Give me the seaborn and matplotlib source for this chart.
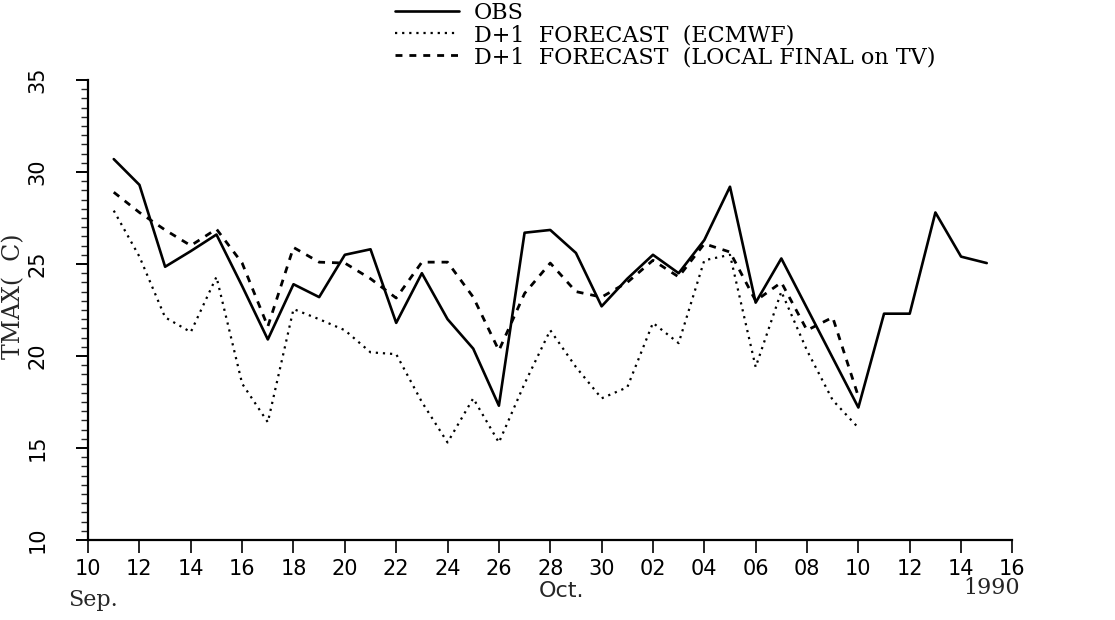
import matplotlib
matplotlib.use("Agg")
import matplotlib.pyplot as plt
import matplotlib.dates as mdates
from matplotlib.ticker import MultipleLocator
import numpy as np
import pandas as pd
import seaborn as sns

# Daily maximum temperature, 11 Sep - 15 Oct 1990
obs_start = "1990-09-11"
obs_tmax = [30.7, 29.3, 24.85, 25.7, 26.6, 23.8, 20.9, 23.9, 23.2, 25.5,
            25.8, 21.8, 24.5, 22.0, 20.4, 17.3, 26.7, 26.85, 25.6, 22.7,
            24.2, 25.5, 24.5, 26.3, 29.2, 22.9, 25.3, 22.6, 19.9, 17.2,
            22.3, 22.3, 27.8, 25.4, 25.05]

# Day+1 forecasts, 11 Sep - 10 Oct 1990
fc_start = "1990-09-11"
ecmwf_tmax = [27.9, 25.4, 22.1, 21.3, 24.3, 18.5, 16.4, 22.55, 22.0, 21.4,
              20.2, 20.1, 17.5, 15.3, 17.7, 15.3, 18.5, 21.4, 19.4, 17.7,
              18.3, 21.8, 20.7, 25.2, 25.5, 19.4, 23.5, 20.3, 17.6, 16.1]
local_tmax = [28.9, 27.8, 26.85, 26.0, 26.9, 25.05, 21.6, 25.9, 25.1, 25.05,
              24.2, 23.15, 25.1, 25.1, 23.2, 20.3, 23.4, 25.05, 23.5, 23.2,
              24.0, 25.2, 24.3, 26.1, 25.65, 23.0, 24.0, 21.4, 22.1, 17.8]

series_labels = ["OBS", "D+1  FORECAST  (ECMWF)", "D+1  FORECAST  (LOCAL FINAL on TV)"]
y_label = "TMAX(  C)"
month_labels = ["Sep.", "Oct."]
year_label = "1990"

obs = pd.DataFrame({"date": pd.date_range(obs_start, periods=len(obs_tmax)),
                    "tmax": obs_tmax})
ecmwf = pd.DataFrame({"date": pd.date_range(fc_start, periods=len(ecmwf_tmax)),
                      "tmax": ecmwf_tmax})
local = pd.DataFrame({"date": pd.date_range(fc_start, periods=len(local_tmax)),
                      "tmax": local_tmax})

sns.set_style("ticks")
plt.rcParams["font.family"] = ["DejaVu Sans"]

fig = plt.figure(figsize=(11.15, 6.2), dpi=100)
ax = fig.add_axes([0.079, 0.129, 0.829, 0.742])

sns.lineplot(data=obs, x="date", y="tmax", ax=ax, color="black",
             linewidth=1.9, linestyle="-", label=series_labels[0])
sns.lineplot(data=ecmwf, x="date", y="tmax", ax=ax, color="black",
             linewidth=1.6, linestyle=(0, (1, 2.2)), label=series_labels[1])
sns.lineplot(data=local, x="date", y="tmax", ax=ax, color="black",
             linewidth=2.0, linestyle=(0, (2.5, 2.5)), label=series_labels[2])

ax.set_xlim(pd.Timestamp("1990-09-10"), pd.Timestamp("1990-10-16"))
ax.set_ylim(10, 35)

ax.xaxis.set_major_locator(mdates.DayLocator(bymonthday=range(2, 32, 2)))
ax.xaxis.set_major_formatter(mdates.DateFormatter("%d"))
ax.yaxis.set_major_locator(MultipleLocator(5))
ax.yaxis.set_minor_locator(MultipleLocator(0.5))

ax.tick_params(axis="x", direction="out", length=9, width=1.2, pad=5,
               labelsize=15, colors="black")
ax.tick_params(axis="y", which="major", direction="out", length=9, width=1.4,
               pad=20, labelsize=15, colors="black", labelrotation=90)
ax.tick_params(axis="y", which="minor", direction="out", length=5, width=1.0)
for lbl in ax.get_yticklabels():
    lbl.set_va("center")

for side in ("top", "right"):
    ax.spines[side].set_visible(False)
for side in ("left", "bottom"):
    ax.spines[side].set_linewidth(1.6)
    ax.spines[side].set_color("black")

ax.set_xlabel("")
ax.set_ylabel(y_label, fontsize=17, family="DejaVu Serif")
ax.yaxis.set_label_coords(-0.068, 0.53)

fig.text(0.083, 0.032, month_labels[0], fontsize=16, family="DejaVu Serif",
         ha="center", va="center")
fig.text(0.504, 0.046, month_labels[1], fontsize=16, family="DejaVu Sans",
         ha="center", va="center")
fig.text(0.889, 0.051, year_label, fontsize=16, family="DejaVu Serif",
         ha="center", va="center")

leg = ax.legend(loc="upper left", bbox_to_anchor=(0.352, 1.0),
                bbox_transform=fig.transFigure, frameon=False,
                prop={"family": "DejaVu Serif", "size": 16},
                handlelength=2.9, handletextpad=0.65, labelspacing=0.0,
                borderpad=0.1, borderaxespad=0)
for txt in leg.get_texts():
    txt.set_color("black")

fig.savefig("out.png", dpi=100, facecolor="white")
